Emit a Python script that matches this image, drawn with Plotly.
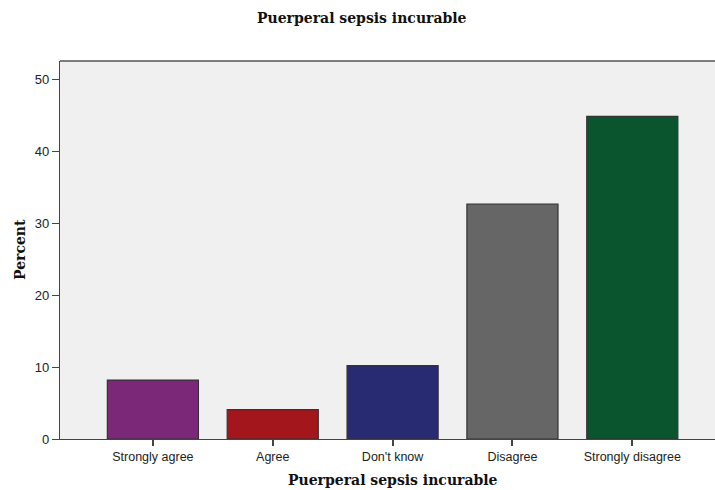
import plotly.graph_objects as go

categories = ["Strongly agree", "Agree", "Don't know", "Disagree", "Strongly disagree"]
percent = [8.2, 4.1, 10.2, 32.7, 44.9]
colors = ["#7B2878", "#A3161B", "#282A72", "#666666", "#0A552D"]
y_ticks = [0, 10, 20, 30, 40, 50]

fig = go.Figure(go.Bar(
    x=categories, y=percent, width=0.76,
    marker=dict(color=colors, line=dict(color="#333333", width=1.2)),
))

serif = "DejaVu Serif, Liberation Serif, serif"
sans = "Liberation Sans, Arial, sans-serif"

fig.update_layout(
    width=715, height=490,
    margin=dict(l=60, r=0, t=61, b=51),
    paper_bgcolor="white", plot_bgcolor="#F0F0F0",
    showlegend=False,
    font=dict(family=sans, size=12, color="#222222"),
    xaxis=dict(range=[-0.775, 4.69], showline=True, linecolor="#444444", linewidth=1.2,
               ticks="outside", ticklen=6, tickcolor="#444444", tickwidth=1.5,
               tickfont=dict(family=sans, size=12.5, color="#222222"), showgrid=False, zeroline=False),
    yaxis=dict(range=[0, 52.6], showline=True, linecolor="#444444", linewidth=1.2,
               ticks="outside", ticklen=7, tickcolor="#444444", tickwidth=1.2,
               tickvals=y_ticks, tickfont=dict(family=sans, size=13, color="#222222"),
               showgrid=False, zeroline=False),
    shapes=[dict(type="line", xref="paper", yref="paper", x0=0, x1=1, y0=1, y1=1,
                 line=dict(color="#555555", width=1.5))],
    annotations=[
        dict(text="<b>Puerperal sepsis incurable</b>", xref="paper", yref="paper",
             x=(362 - 60) / 655, y=1, yshift=43, yanchor="middle", showarrow=False,
             font=dict(family=serif, size=14, color="#111111")),
        dict(text="<b>Puerperal sepsis incurable</b>", xref="paper", yref="paper",
             x=(393 - 60) / 655, y=0, yshift=-41, yanchor="middle", showarrow=False,
             font=dict(family=serif, size=14, color="#111111")),
        dict(text="<b>Percent</b>", xref="paper", yref="paper", x=0, xshift=-40,
             xanchor="center", yanchor="middle",
             y=0.5, textangle=-90, showarrow=False,
             font=dict(family=serif, size=14, color="#111111")),
    ],
)

fig.write_html("out.html", config={"displayModeBar": False},
               post_script="document.body.style.margin='0';document.body.style.overflow='hidden';")
